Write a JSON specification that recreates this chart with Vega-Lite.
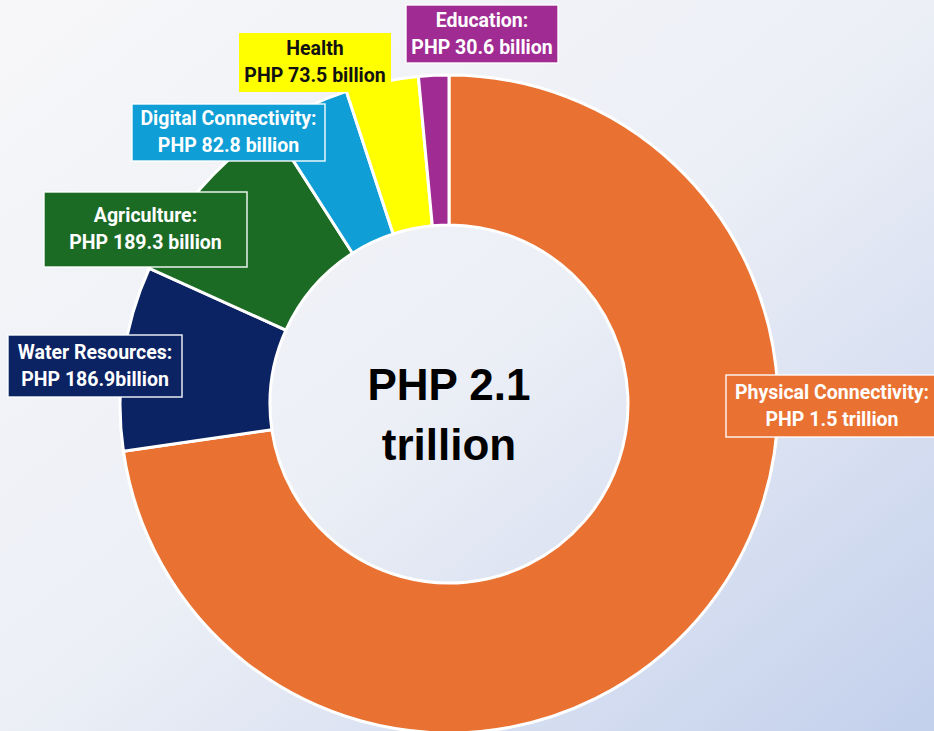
{
  "$schema": "https://vega.github.io/schema/vega-lite/v6.json",
  "width": 934,
  "height": 731,
  "autosize": {"type": "none"},
  "padding": 0,
  "background": "#F4F5F8",
  "view": {
    "stroke": null,
    "fill": {
      "gradient": "linear",
      "x1": 0, "y1": 0, "x2": 1, "y2": 1,
      "stops": [
        {"offset": 0, "color": "#F7F7F9"},
        {"offset": 0.5, "color": "#ECEFF6"},
        {"offset": 1, "color": "#C3D0EC"}
      ]
    }
  },
  "data": {
    "values": [
      {"cat": "Physical Connectivity", "value": 1500, "order": 1, "label": "Physical Connectivity:\nPHP 1.5 trillion"},
      {"cat": "Water Resources", "value": 186.9, "order": 2, "label": "Water Resources:\nPHP 186.9billion"},
      {"cat": "Agriculture", "value": 189.3, "order": 3, "label": "Agriculture:\nPHP 189.3 billion"},
      {"cat": "Digital Connectivity", "value": 82.8, "order": 4, "label": "Digital Connectivity:\nPHP 82.8 billion"},
      {"cat": "Health", "value": 73.5, "order": 5, "label": "Health\nPHP 73.5 billion"},
      {"cat": "Education", "value": 30.6, "order": 6, "label": "Education:\nPHP 30.6 billion"}
    ]
  },
  "layer": [
    {
      "mark": {"type": "arc", "outerRadius": 329, "innerRadius": 179, "stroke": "white", "strokeWidth": 3},
      "encoding": {
        "x": {"datum": 0, "type": "quantitative", "scale": {"domain": [-449, 485], "nice": false, "zero": false}, "axis": null},
        "y": {"datum": 0, "type": "quantitative", "scale": {"domain": [-327, 404], "nice": false, "zero": false}, "axis": null},
        "theta": {"field": "value", "type": "quantitative", "stack": true},
        "order": {"field": "order", "type": "quantitative"},
        "color": {
          "field": "cat",
          "type": "nominal",
          "legend": null,
          "scale": {
            "domain": ["Physical Connectivity", "Water Resources", "Agriculture", "Digital Connectivity", "Health", "Education"],
            "range": ["#E97132", "#0B2263", "#1B6B25", "#0F9ED5", "#FFFF00", "#A02B93"]
          }
        }
      }
    },
    {
      "transform": [
        {"calculate": "[383, -354, -303.5, -220.5, -134, 33][datum.order - 1]", "as": "cx"},
        {"calculate": "[-2, 38, 174.5, 271.5, 341.5, 370][datum.order - 1]", "as": "cy"},
        {"calculate": "[212, 174, 203, 193, 152, 152][datum.order - 1]", "as": "bw"},
        {"calculate": "[62, 62, 75, 57, 59, 58][datum.order - 1]", "as": "bh"},
        {"calculate": "datum.cx - datum.bw / 2", "as": "bx1"},
        {"calculate": "datum.cx + datum.bw / 2", "as": "bx2"},
        {"calculate": "datum.cy - datum.bh / 2", "as": "by1"},
        {"calculate": "datum.cy + datum.bh / 2", "as": "by2"}
      ],
      "layer": [
        {
          "mark": {"type": "rect", "stroke": "white", "strokeWidth": 1.5},
          "encoding": {
            "x": {"field": "bx1", "type": "quantitative"},
            "x2": {"field": "bx2"},
            "y": {"field": "by1", "type": "quantitative"},
            "y2": {"field": "by2"},
            "color": {"field": "cat", "type": "nominal", "legend": null},
            "strokeOpacity": {"condition": {"test": "datum.cat === 'Health'", "value": 0}, "value": 0.9}
          }
        },
        {
          "mark": {"type": "text", "font": "Roboto", "fontWeight": "bold", "fontSize": 19.5, "lineHeight": 27, "lineBreak": "\n", "align": "center", "baseline": "middle", "dy": -13.5},
          "encoding": {
            "x": {"field": "cx", "type": "quantitative"},
            "y": {"field": "cy", "type": "quantitative"},
            "text": {"field": "label"},
            "color": {"condition": {"test": "datum.cat === 'Health'", "value": "#111111"}, "value": "#FFFFFF"}
          }
        }
      ]
    },
    {
      "data": {"values": [{"total": "PHP 2.1\ntrillion"}]},
      "mark": {"type": "text", "font": "Liberation Sans", "fontWeight": "bold", "fontSize": 44, "lineHeight": 60, "lineBreak": "\n", "align": "center", "baseline": "middle", "dy": -17, "color": "#000000"},
      "encoding": {
        "x": {"datum": 0, "type": "quantitative"},
        "y": {"datum": 0, "type": "quantitative"},
        "text": {"field": "total"}
      }
    }
  ]
}
